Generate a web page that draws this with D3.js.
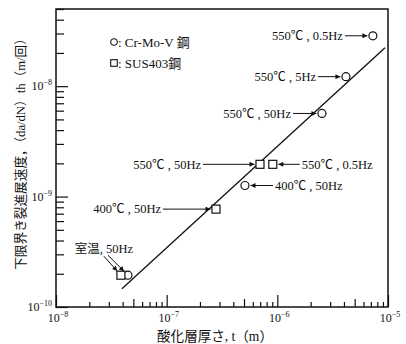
<!DOCTYPE html>
<html>
<head>
<meta charset="utf-8">
<script src="https://cdn.jsdelivr.net/npm/d3@7"></script>
<style>
  body { margin: 0; background: #fff; }
  svg text { font-family: "Liberation Serif", "Noto Sans CJK JP", serif; fill: #111; }
</style>
</head>
<body>
<div class="chart"></div>
<script>
/// Data
// Cr-Mo-V steel (circles): 550C 0.5Hz, 550C 5Hz, 550C 50Hz, 400C 50Hz, room temp 50Hz
var crmovX = [7.3e-6, 4.17e-6, 2.53e-6, 5.1e-7, 4.47e-8];
var crmovY = [2.86e-8, 1.22e-8, 5.66e-9, 1.26e-9, 1.94e-10];
// SUS403 steel (squares): 550C 50Hz, 550C 0.5Hz, 400C 50Hz, room temp 50Hz
var susX = [6.97e-7, 9.1e-7, 2.79e-7, 3.86e-8];
var susY = [1.96e-9, 1.96e-9, 7.7e-10, 1.94e-10];
// regression line end points
var lineX = [3.94e-8, 9.4e-6];
var lineY = [1.46e-10, 2.23e-8];

var crmovLabels = ["550℃ , 0.5Hz", "550℃ , 5Hz", "550℃ , 50Hz", "400℃ , 50Hz", "室温, 50Hz"];
var susLabels = ["550℃ , 50Hz", "550℃ , 0.5Hz", "400℃ , 50Hz", "室温, 50Hz"];

var xTickLabels = ["−8", "−7", "−6", "−5"];
var yTickLabels = ["−10", "−9", "−8"];

var legendLabels = [": Cr-Mo-V 鋼", ": SUS403鋼"];
var xTitle = "酸化層厚さ, t（m）";
var yTitle = "下限界き裂進展速度，（da/dN）th（m/回）";

/// Layout
var svgWidth = 406;
var svgHeight = 344;
var margin = { top: 9, right: 18, bottom: 37, left: 56 };
var width = svgWidth - margin.left - margin.right;
var height = svgHeight - margin.top - margin.bottom;

var svg = d3.select(".chart")
    .append("svg")
    .attr("width", svgWidth)
    .attr("height", svgHeight);

svg.append("defs").append("marker")
    .attr("id", "arrow")
    .attr("viewBox", "0 0 10 10")
    .attr("refX", 10)
    .attr("refY", 5)
    .attr("markerUnits", "userSpaceOnUse")
    .attr("markerWidth", 7)
    .attr("markerHeight", 5)
    .attr("orient", "auto")
    .append("path")
    .attr("d", "M0,0 L10,5 L0,10 Z")
    .attr("fill", "#111");

var chartGroup = svg.append("g")
    .attr("transform", `translate(${margin.left}, ${margin.top})`);

var x = d3.scaleLog().domain([1e-8, 1e-5]).range([0, width]);
var y = d3.scaleLog().domain([1e-10, 5e-8]).range([height, 0]);

/// Ticks (inward, minor + major)
function isMajor(v) {
    return Math.abs(Math.log10(v) - Math.round(Math.log10(v))) < 1e-6;
}
function isFive(v) {
    var m = v / Math.pow(10, Math.floor(Math.log10(v) + 1e-9));
    return Math.abs(m - 5) < 1e-6;
}

var xTicks = x.ticks();
xTicks.forEach(function(v) {
    var len = isMajor(v) ? 12 : (isFive(v) ? 8 : 5);
    chartGroup.append("g")
        .attr("transform", `translate(0, ${height})`)
        .call(d3.axisBottom(x).tickValues([v]).tickSize(-len).tickFormat(""))
        .call(g => g.select(".domain").remove())
        .selectAll("line").attr("stroke", "#111").attr("stroke-width", 1.2);
});

var yTicks = y.ticks();
yTicks.forEach(function(v) {
    var len = isMajor(v) ? 12 : 8;
    chartGroup.append("g")
        .call(d3.axisLeft(y).tickValues([v]).tickSize(-len).tickFormat(""))
        .call(g => g.select(".domain").remove())
        .selectAll("line").attr("stroke", "#111").attr("stroke-width", 1.2);
});

/// Frame
chartGroup.append("rect")
    .attr("width", width)
    .attr("height", height)
    .attr("fill", "none")
    .attr("stroke", "#111")
    .attr("stroke-width", 1.5);

/// Tick labels
var xMajors = xTicks.filter(isMajor);
xMajors.forEach(function(v, i) {
    var t = chartGroup.append("text")
        .attr("x", x(v) + 2)
        .attr("y", height + 15)
        .attr("text-anchor", "middle")
        .attr("font-size", 12);
    t.append("tspan").text("10");
    t.append("tspan").attr("font-size", 8).attr("dy", -5).text(xTickLabels[i]);
});

var yMajors = yTicks.filter(isMajor);
yMajors.forEach(function(v, i) {
    var t = chartGroup.append("text")
        .attr("x", -4)
        .attr("y", y(v) + 4)
        .attr("text-anchor", "end")
        .attr("font-size", 12);
    t.append("tspan").text("10");
    t.append("tspan").attr("font-size", 8).attr("dy", -5).text(yTickLabels[i]);
});

/// Axis titles, sized to the span they take in the picture
function fit(sel, target) {
    var w = sel.node().getComputedTextLength();
    var fs = +sel.attr("font-size");
    sel.attr("font-size", fs * target / w);
}

var xt = svg.append("text")
    .attr("x", 215)
    .attr("y", 341)
    .attr("text-anchor", "middle")
    .attr("font-size", 13)
    .text(xTitle);
fit(xt, 116);

var yt = svg.append("text")
    .attr("transform", "translate(21, 151) rotate(-90)")
    .attr("text-anchor", "middle")
    .attr("dy", "0.35em")
    .attr("font-size", 13)
    .text(yTitle);
fit(yt, 238);

/// Regression line
chartGroup.append("line")
    .attr("x1", x(lineX[0])).attr("y1", y(lineY[0]))
    .attr("x2", x(lineX[1])).attr("y2", y(lineY[1]))
    .attr("stroke", "#111")
    .attr("stroke-width", 1.3);

/// Points
var crmov = crmovX.map((d, i) => ({ x: d, y: crmovY[i], label: crmovLabels[i] }));
var sus = susX.map((d, i) => ({ x: d, y: susY[i], label: susLabels[i] }));
var r = 4;

chartGroup.selectAll(".circ")
    .data(crmov)
    .enter()
    .append("circle")
    .attr("cx", d => x(d.x))
    .attr("cy", d => y(d.y))
    .attr("r", r)
    .attr("fill", "#fff")
    .attr("stroke", "#111")
    .attr("stroke-width", 1.2);

chartGroup.selectAll(".sq")
    .data(sus)
    .enter()
    .append("rect")
    .attr("x", d => x(d.x) - r)
    .attr("y", d => y(d.y) - r)
    .attr("width", 2 * r)
    .attr("height", 2 * r)
    .attr("fill", "#fff")
    .attr("stroke", "#111")
    .attr("stroke-width", 1.2);

/// Annotations: arrow start offset from the point, text beside the arrow start
var notes = [
    { d: crmov[0], from: [-28, 0], anchor: "end" },
    { d: crmov[1], from: [-28, 0], anchor: "end" },
    { d: crmov[2], from: [-29, 0], anchor: "end" },
    { d: crmov[3], from: [28, 0], anchor: "start" },
    { d: sus[0], from: [-57, 0], anchor: "end" },
    { d: sus[1], from: [27, 0], anchor: "start" },
    { d: sus[2], from: [-53, 0], anchor: "end" }
];

function arrow(px, py, fx, fy) {
    var dx = px - fx, dy = py - fy;
    var len = Math.sqrt(dx * dx + dy * dy);
    var k = (len - r - 1.5) / len;
    chartGroup.append("line")
        .attr("x1", fx).attr("y1", fy)
        .attr("x2", fx + dx * k).attr("y2", fy + dy * k)
        .attr("stroke", "#111")
        .attr("stroke-width", 1)
        .attr("marker-end", "url(#arrow)");
}

notes.forEach(function(n) {
    var px = x(n.d.x), py = y(n.d.y);
    var fx = px + n.from[0], fy = py + n.from[1];
    arrow(px, py, fx, fy);
    chartGroup.append("text")
        .attr("x", n.anchor === "end" ? fx - 2 : fx + 2)
        .attr("y", fy)
        .attr("dy", "0.35em")
        .attr("text-anchor", n.anchor)
        .attr("font-size", 12.5)
        .text(n.d.label);
});

// room temperature pair: one label, two arrows
var rtS = sus[3], rtC = crmov[4];
arrow(x(rtS.x), y(rtS.y), x(rtS.x) - 17, y(rtS.y) - 19);
arrow(x(rtC.x), y(rtC.y), x(rtC.x) - 20, y(rtC.y) - 20);
chartGroup.append("text")
    .attr("x", x(rtS.x) - 17)
    .attr("y", y(rtS.y) - 22)
    .attr("text-anchor", "middle")
    .attr("font-size", 12.5)
    .text(rtS.label);

/// Legend
var legend = chartGroup.append("g")
    .attr("transform", "translate(58, 33)");

legend.append("circle")
    .attr("cx", 0).attr("cy", 0).attr("r", 3.3)
    .attr("fill", "#fff").attr("stroke", "#111").attr("stroke-width", 1.1);
legend.append("rect")
    .attr("x", -3.3).attr("y", 21 - 3.3).attr("width", 6.6).attr("height", 6.6)
    .attr("fill", "#fff").attr("stroke", "#111").attr("stroke-width", 1.1);

legend.selectAll(".lt")
    .data(legendLabels)
    .enter()
    .append("text")
    .attr("x", 4)
    .attr("y", (d, i) => i * 21)
    .attr("dy", "0.35em")
    .attr("font-size", 13)
    .text(d => d);
</script>
</body>
</html>
